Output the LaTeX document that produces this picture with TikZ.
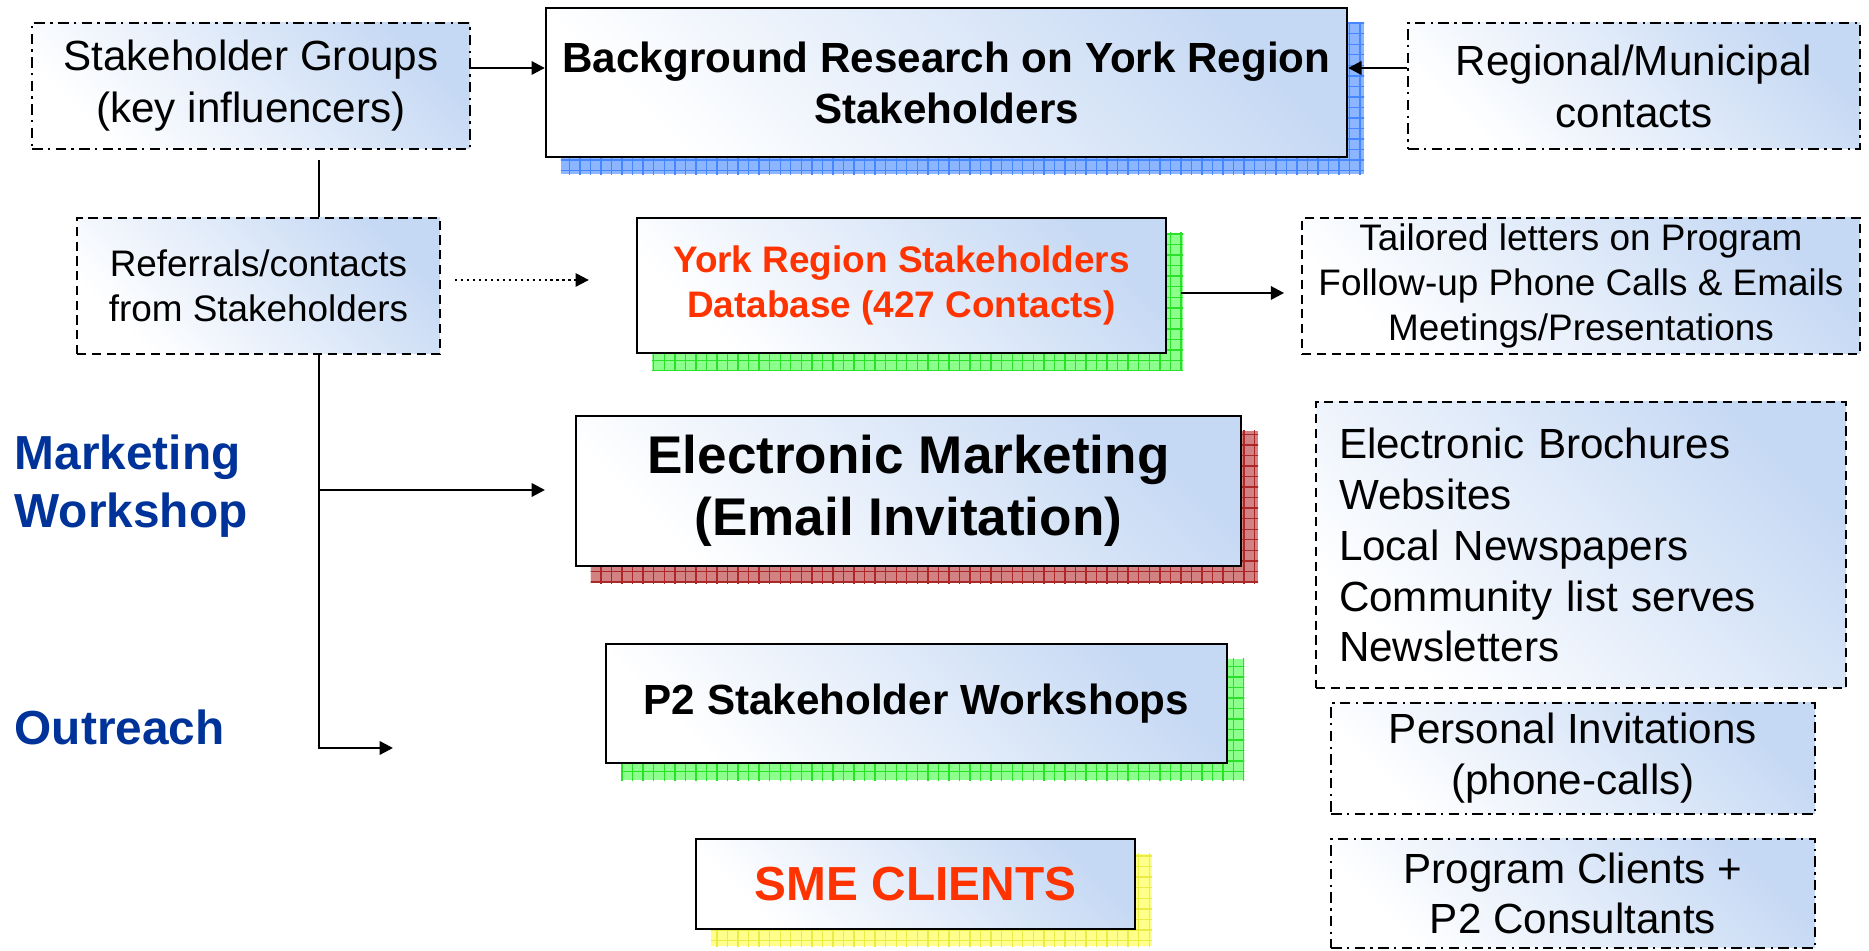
\documentclass[tikz,border=0pt]{standalone}
\usepackage{fontspec}
\setmainfont{Liberation Sans}
\usepackage{tikz}
\usetikzlibrary{arrows.meta,positioning,calc,patterns,backgrounds}
\usepackage{xcolor}
\definecolor{boxblue}{RGB}{198,217,244}
\definecolor{titleblue}{RGB}{0,51,153}
\definecolor{brightred}{RGB}{255,51,0}
\definecolor{shblue}{RGB}{140,182,255}
\definecolor{shbluel}{RGB}{70,135,255}
\definecolor{shgreen}{RGB}{140,255,140}
\definecolor{shgreenl}{RGB}{40,225,40}
\definecolor{shred}{RGB}{210,130,130}
\definecolor{shredl}{RGB}{170,40,40}
\definecolor{shyellow}{RGB}{255,255,140}
\definecolor{shyellowl}{RGB}{235,235,70}

\tikzset{
  box/.style={draw=black, line width=0.65pt, top color=boxblue, bottom color=white, shading angle=-45, align=center, inner sep=0pt},
  dashbox/.style={box, line width=0.5pt, dash pattern=on 2.6pt off 1.6pt},
  dotbox/.style={box, line width=0.5pt, dash pattern=on 3pt off 1.5pt on 0.7pt off 1.5pt},
  arr/.style={-{Triangle[length=3.8pt,width=3.8pt]}, line width=0.7pt},
  label/.style={anchor=west, align=left, text=titleblue, font=\fontsize{13.6}{16.5}\selectfont\bfseries, inner sep=0pt}
}

\begin{document}
\begin{tikzpicture}
        \useasboundingbox (0,0) rectangle (18.69,-9.51);

        \node[dotbox, minimum width=4.38cm, minimum height=1.26cm, font=\fontsize{12}{14.8}\selectfont] (sg) at (2.51,-0.86) {Stakeholder Groups\\(key influencers)};
        \node[box, minimum width=8.01cm, minimum height=1.49cm, font=\fontsize{12}{14.5}\selectfont\bfseries] (bg) at (9.465,-0.825) {Background Research on York Region\\Stakeholders};
        \node[dotbox, minimum width=4.52cm, minimum height=1.26cm, font=\fontsize{12}{14.8}\selectfont] (rm) at (16.34,-0.86) {Regional/Municipal\\contacts};

        \node[dashbox, minimum width=3.63cm, minimum height=1.36cm, font=\fontsize{10.5}{12.8}\selectfont] (ref) at (2.585,-2.86) {Referrals/contacts\\from Stakeholders};
        \node[box, minimum width=5.29cm, minimum height=1.35cm, text=brightred, font=\fontsize{10.5}{12.6}\selectfont\bfseries] (db) at (9.015,-2.855) {York Region Stakeholders\\Database (427 Contacts)};
        \node[dashbox, minimum width=5.58cm, minimum height=1.36cm, font=\fontsize{10.5}{12.8}\selectfont] (tl) at (15.81,-2.86) {Tailored letters on Program\\Follow-up Phone Calls \& Emails\\Meetings/Presentations};

        \node[box, minimum width=6.65cm, minimum height=1.50cm, font=\fontsize{15.1}{17.6}\selectfont\bfseries] (em) at (9.085,-4.91) {Electronic Marketing\\(Email Invitation)};
        \node[dashbox, minimum height=2.86cm, text width=4.84cm, inner xsep=0.23cm, align=left, font=\fontsize{12}{14.5}\selectfont] (eb) at (15.81,-5.45) {Electronic Brochures\\Websites\\Local Newspapers\\Community list serves\\Newsletters};

        \node[box, minimum width=6.21cm, minimum height=1.19cm, font=\fontsize{12}{14.5}\selectfont\bfseries] (ws) at (9.165,-7.035) {P2 Stakeholder Workshops};
        \node[dotbox, minimum width=4.84cm, minimum height=1.11cm, font=\fontsize{12}{14.5}\selectfont] (pi) at (15.73,-7.585) {Personal Invitations\\(phone-calls)};

        \node[box, minimum width=4.39cm, minimum height=0.90cm, text=brightred, font=\fontsize{13.6}{16}\selectfont\bfseries] (sme) at (9.155,-8.84) {SME CLIENTS};
        \node[dotbox, minimum width=4.84cm, minimum height=1.09cm, font=\fontsize{12}{14.2}\selectfont] (pc) at (15.73,-8.935) {Program Clients +\\P2 Consultants};

        \node[label] (mw) at (0.14,-4.86) {Marketing\\Workshop};
        \node[label] (out) at (0.14,-7.27) {Outreach};

        \begin{scope}[on background layer]
        \foreach \n/\c in {bg/shblue, db/shgreen, em/shred, ws/shgreen, sme/shyellow}
          \fill[\c, postaction={pattern=grid, pattern color=\c l}] ([shift={(0.16,-0.16)}]\n.south west) rectangle ([shift={(0.16,-0.16)}]\n.north east);
        \end{scope}

        \coordinate (trk) at (3.19,0);
        \coordinate (mwend) at (5.45,-4.90);
        \coordinate (outend) at (3.93,-7.48);

        \draw[arr] (sg.east |- 0,-0.68) -- (bg.west |- 0,-0.68);
        \draw[arr] (rm.west |- 0,-0.68) -- (bg.east |- 0,-0.68);
        \draw[line width=0.7pt, shorten <=0.10cm] (sg.south -| trk) -- (ref.north -| trk);
        \draw[arr] (ref.south -| trk) |- (outend);
        \draw[arr] (mwend -| trk) -- (mwend);
        \draw[arr, densely dotted, line width=0.6pt, shorten <=0.14cm, shorten >=0.47cm] (ref.east |- 0,-2.80) -- (db.west |- 0,-2.80);
        \draw[arr, shorten <=0.14cm, shorten >=0.17cm] (db.east |- 0,-2.93) -- (tl.west |- 0,-2.93);
    \end{tikzpicture}
\end{document}
